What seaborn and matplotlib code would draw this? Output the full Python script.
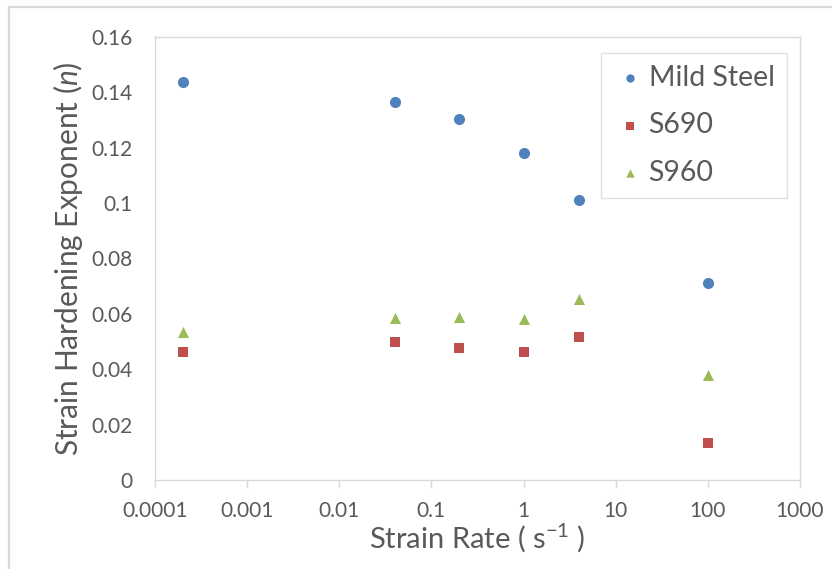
import numpy as np
import pandas as pd
import matplotlib
matplotlib.use("Agg")
import matplotlib.pyplot as plt
import seaborn as sns
from matplotlib.patches import Rectangle
from matplotlib.ticker import FixedLocator, NullLocator

# ---- data ----
strain_rate = [0.0002, 0.04, 0.2, 1, 4, 100]
mild_steel = [0.1436, 0.1364, 0.1305, 0.1181, 0.1010, 0.0710]
s690 = [0.0463, 0.0499, 0.0478, 0.0463, 0.0516, 0.0135]
s960 = [0.0536, 0.0584, 0.0589, 0.0580, 0.0654, 0.0379]
series_names = ["Mild Steel", "S690", "S960"]
x_ticks = [1e-4, 1e-3, 1e-2, 1e-1, 1, 10, 100, 1000]
x_tick_labels = ["0.0001", "0.001", "0.01", "0.1", "1", "10", "100", "1000"]
y_ticks = [0, 0.02, 0.04, 0.06, 0.08, 0.10, 0.12, 0.14, 0.16]
y_tick_labels = ["0", "0.02", "0.04", "0.06", "0.08", "0.1", "0.12", "0.14", "0.16"]

colors = {"Mild Steel": "#4F81BD", "S690": "#C0504D", "S960": "#9BBB59"}
markers = {"Mild Steel": "o", "S690": "s", "S960": "^"}
sizes = {"Mild Steel": 64, "S690": 56, "S960": 64}

sns.set_theme(style="white")
plt.rcParams["font.family"] = ["Lato", "DejaVu Sans"]
plt.rcParams["mathtext.fontset"] = "custom"
plt.rcParams["mathtext.rm"] = "Lato"
plt.rcParams["mathtext.it"] = "Lato:italic"

txt = "#595959"
border = "#D9D9D9"

fig = plt.figure(figsize=(8.32, 5.69), dpi=100)
W, H = 832, 569
ax = fig.add_axes([155 / W, (H - 480) / H, (800 - 155) / W, (480 - 37) / H])

# chart area border (cropped on right/bottom in reference)
fig.patches.append(Rectangle((9 / W, -0.1), 1.2, (H - 7) / H + 0.1,
                             transform=fig.transFigure, fill=False,
                             edgecolor=border, linewidth=1.6))

values = {"Mild Steel": mild_steel, "S690": s690, "S960": s960}
for name in series_names:
    sns.scatterplot(x=strain_rate, y=values[name], ax=ax, marker=markers[name],
                    s=sizes[name], color=colors[name], linewidth=0, label=name)

ax.set_xscale("log")
ax.set_xlim(1e-4, 1e3)
ax.set_ylim(0, 0.16)
ax.xaxis.set_major_locator(FixedLocator(x_ticks))
ax.xaxis.set_minor_locator(NullLocator())
ax.set_xticklabels(x_tick_labels)
ax.set_yticks(y_ticks)
ax.set_yticklabels(y_tick_labels)

for sp in ax.spines.values():
    sp.set_color(border)
    sp.set_linewidth(1.0)
    sp.set_visible(True)

ax.tick_params(axis="x", which="major", direction="out", length=6, width=1.0,
               color=border, labelsize=15, labelcolor=txt, pad=9, bottom=True)
ax.tick_params(axis="y", which="major", length=0, labelsize=15,
               labelcolor=txt, pad=16, left=True)

ax.set_xlabel(r"Strain Rate ( s$^{-1}$ )", fontsize=21, color=txt, labelpad=0)
ax.set_ylabel(r"Strain Hardening Exponent ($\mathit{n}$)", fontsize=21.5,
              color=txt, labelpad=5)

leg = ax.legend(loc="upper left", bbox_to_anchor=(0.6915, 0.9639),
                borderaxespad=0, frameon=True, fancybox=False,
                fontsize=20.5, labelspacing=0.75, borderpad=0.42,
                handlelength=1.2, handletextpad=0.05, markerscale=0.75)
leg.get_frame().set_edgecolor(border)
leg.get_frame().set_linewidth(1.0)
for t in leg.get_texts():
    t.set_color(txt)

fig.savefig("out.png", dpi=100)
